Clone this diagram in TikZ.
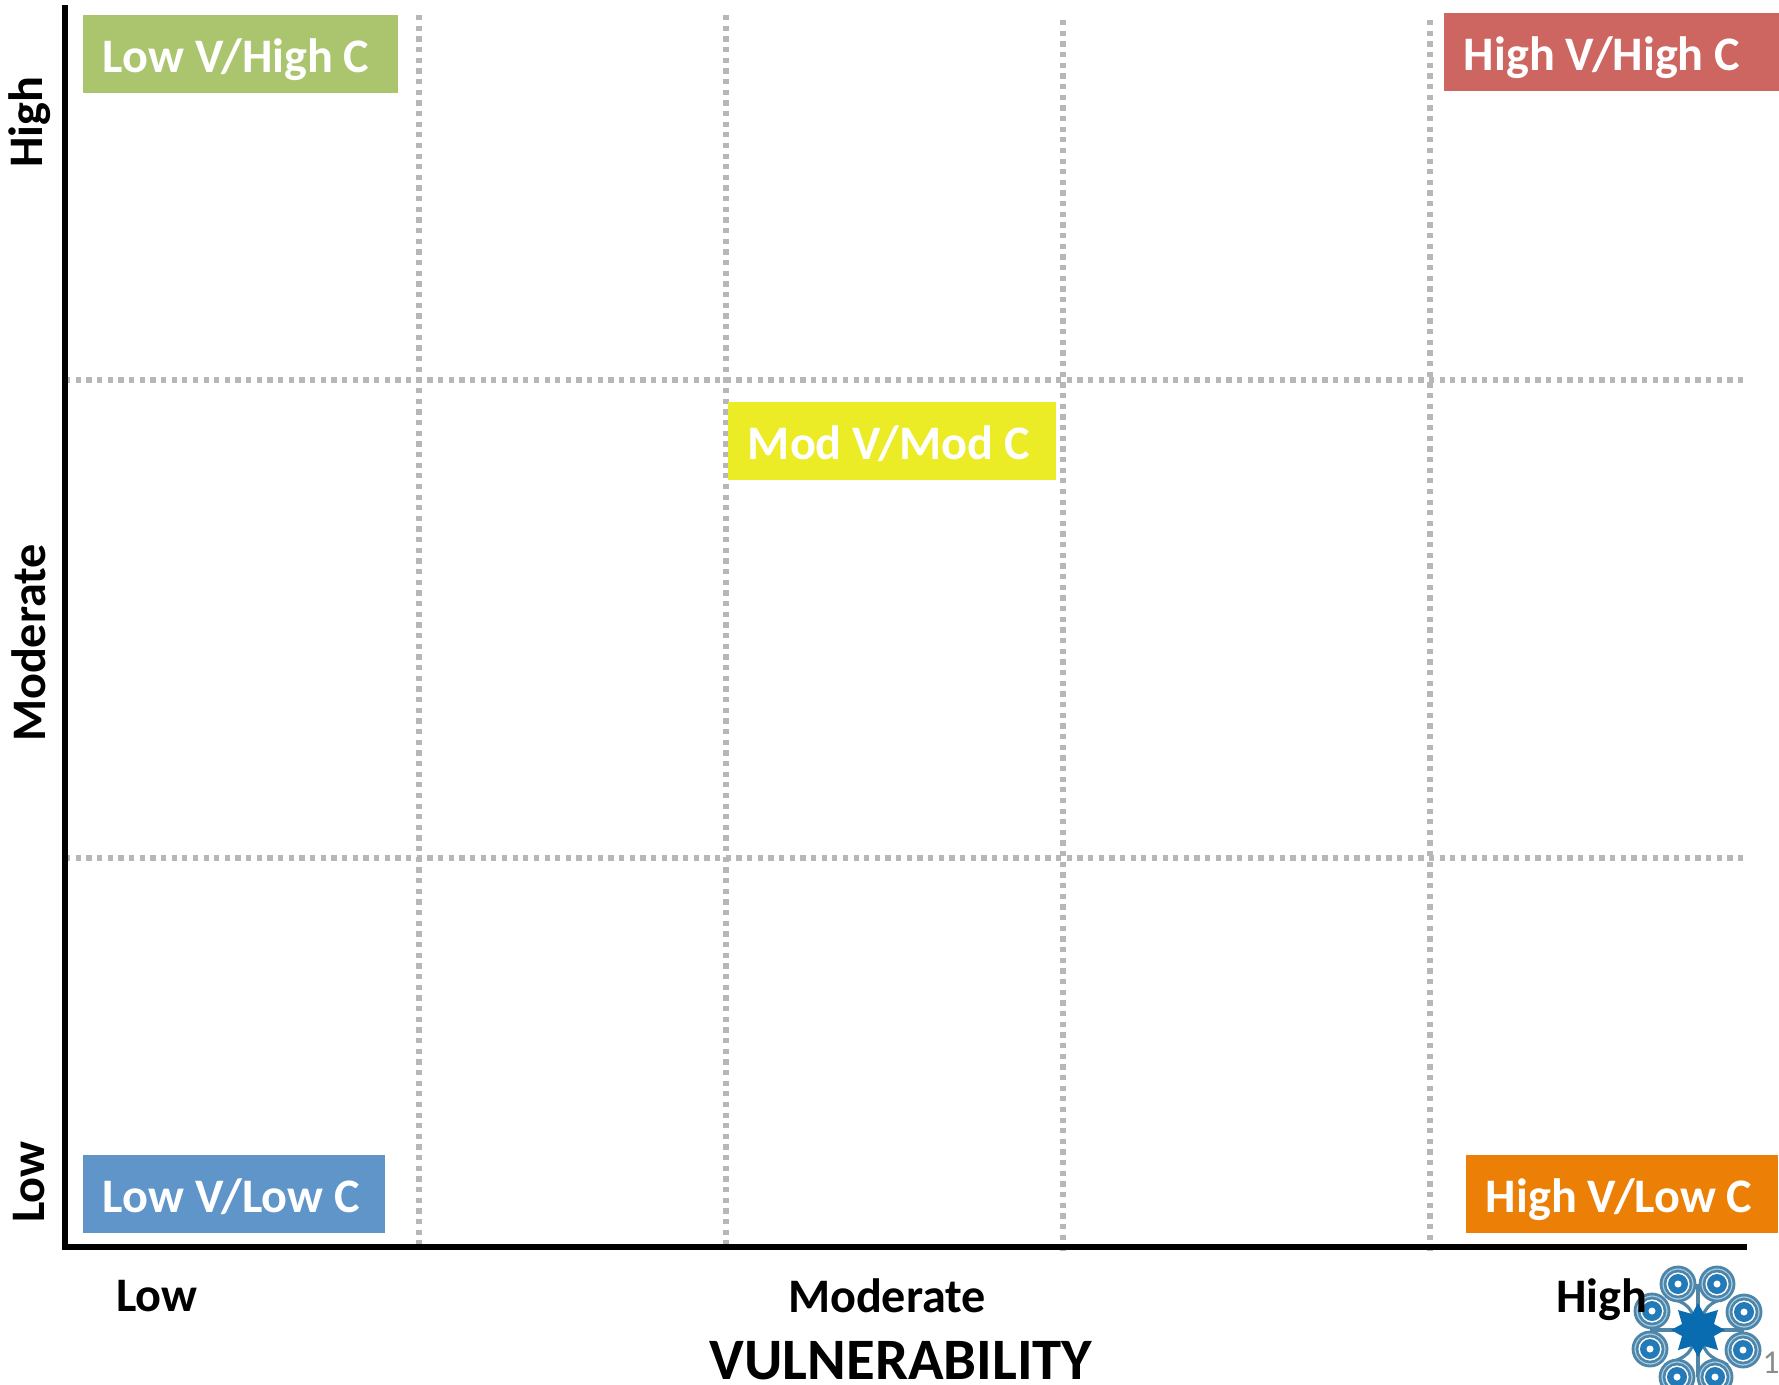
\documentclass[tikz,border=0pt]{standalone}
\usepackage{fontspec}
\setmainfont{Carlito}
\usepackage{tikz}
\usetikzlibrary{calc, positioning}
\definecolor{lowhigh}{HTML}{ABC56E}
\definecolor{highhigh}{HTML}{CD6560}
\definecolor{modmod}{HTML}{EBEC25}
\definecolor{lowlow}{HTML}{6095CA}
\definecolor{highlow}{HTML}{EC7F05}
\definecolor{gridgray}{HTML}{B7B7B7}
\definecolor{logoblue}{HTML}{0A6CB0}
\definecolor{logoring}{HTML}{4F86A8}
\definecolor{logopale}{HTML}{A9D2EE}
\definecolor{pagegray}{HTML}{8C8C8C}
\tikzstyle{box}=[inner ysep=0pt, inner xsep=0.2cm, shape=rectangle, minimum height=0.78cm, text height=0.36cm, text depth=0pt, align=flush left, text=white, font=\fontsize{13.7pt}{16pt}\selectfont\bfseries]
\tikzstyle{tick}=[inner sep=0pt, font=\fontsize{13.7pt}{16pt}\selectfont\bfseries]
\tikzstyle{axis}=[line width=1.6pt, black]
\tikzstyle{grid}=[line width=1.6pt, gridgray, dash pattern=on 1.5pt off 1.53pt]
\tikzstyle{stem}=[line width=0.9pt, logoring]
\tikzset{ringpic/.pic={
  \fill[logopale] (0,0) circle (17);
  \draw[logoring, line width=0.8pt] (0,0) circle (17);
  \draw[logoring, line width=0.8pt] (0,0) circle (13);
  \fill[white] (0,0) circle (11.5);
  \fill[logoblue!90] (0,0) circle (10);
  \fill[white] (0,0) circle (3.5);
}}

\begin{document}
\begin{tikzpicture}[x=0.01cm, y=-0.01cm]
\useasboundingbox (0,0) rectangle (1779,1384);
\clip (0,0) rectangle (1779,1384);
% the axes
\coordinate (T) at (65,5);
\coordinate (O) at (65,1247);
\coordinate (R) at (1747,1247);
% the dotted grid
\coordinate (V1a) at (419,15);
\coordinate (V1b) at (419,1247);
\coordinate (V2a) at (726,15);
\coordinate (V2b) at (726,1247);
\coordinate (V3a) at (1063,20);
\coordinate (V3b) at (1063,1252);
\coordinate (V4a) at (1430,20);
\coordinate (V4b) at (1430,1252);
\coordinate (H1a) at (65,380);
\coordinate (H1b) at (1743,380);
\coordinate (H2a) at (65,858);
\coordinate (H2b) at (1745,858);
\draw[grid] (V1a) -- (V1b);
\draw[grid] (V2a) -- (V2b);
\draw[grid] (V3a) -- (V3b);
\draw[grid] (V4a) -- (V4b);
\draw[grid] (H1a) -- (H1b);
\draw[grid] (H2a) -- (H2b);
\draw[axis] (T) -- (O) -- (R);
% the five boxes
\node[box, fill=lowhigh, text width=2.75cm] (LH) at (240.5,54) {Low V/High C};
\node[box, fill=highhigh, text width=2.95cm] (HH) at (1611.5,52) {High V/High C};
\node[box, fill=modmod, text width=2.88cm] (MM) at (892,441) {Mod V/Mod C};
\node[box, fill=lowlow, text width=2.62cm] (LL) at (234,1194) {Low V/Low C};
\node[box, fill=highlow, text width=2.72cm] (HL) at (1622,1194) {High V/Low C};
% the logo
\coordinate (S) at (1698,1330);
\draw[stem] (S) -- (1698,1284);
\draw[stem] (S) -- (1698,1377);
\draw[stem] (S) -- (1650,1330);
\draw[stem] (S) -- (1744,1330);
\draw[stem] (S) .. controls (1690,1305) .. (1666,1296);
\draw[stem] (S) .. controls (1706,1305) .. (1729,1296);
\draw[stem] (S) .. controls (1706,1355) .. (1728,1365);
\draw[stem] (S) .. controls (1690,1355) .. (1665,1365);
\fill[logoblue] (1698,1303) -- (1704,1314) -- (1718,1310) -- (1714,1324) -- (1725,1330) -- (1714,1336) -- (1718,1350) -- (1704,1346) -- (1698,1357) -- (1692,1346) -- (1678,1350) -- (1682,1336) -- (1671,1330) -- (1682,1324) -- (1678,1310) -- (1692,1314) -- cycle;
\pic at (1678,1284) {ringpic};
\pic at (1717,1284) {ringpic};
\pic at (1744,1312) {ringpic};
\pic at (1743,1350) {ringpic};
\pic at (1715,1377) {ringpic};
\pic at (1677,1377) {ringpic};
\pic at (1650,1349) {ringpic};
\pic at (1652,1311) {ringpic};
% the labels of the axes
\node[tick, rotate=90] (YL) at (29,1182) {Low};
\node[tick, rotate=90] (YM) at (29,643) {Moderate};
\node[tick, rotate=90] (YH) at (30,122) {High};
\node[tick] (XL) at (157,1296) {Low};
\node[tick] (XM) at (887,1296) {Moderate};
\node[tick] (XH) at (1602,1300) {High};
\node[inner sep=0pt, font=\fontsize{16.7pt}{19pt}\selectfont\bfseries] (VU) at (901,1361) {VULNERABILITY};
\node[inner sep=0pt, anchor=west, text=pagegray, font=\fontsize{9.5pt}{11pt}\selectfont] (PG) at (1762,1363) {10};
\end{tikzpicture}
\end{document}
